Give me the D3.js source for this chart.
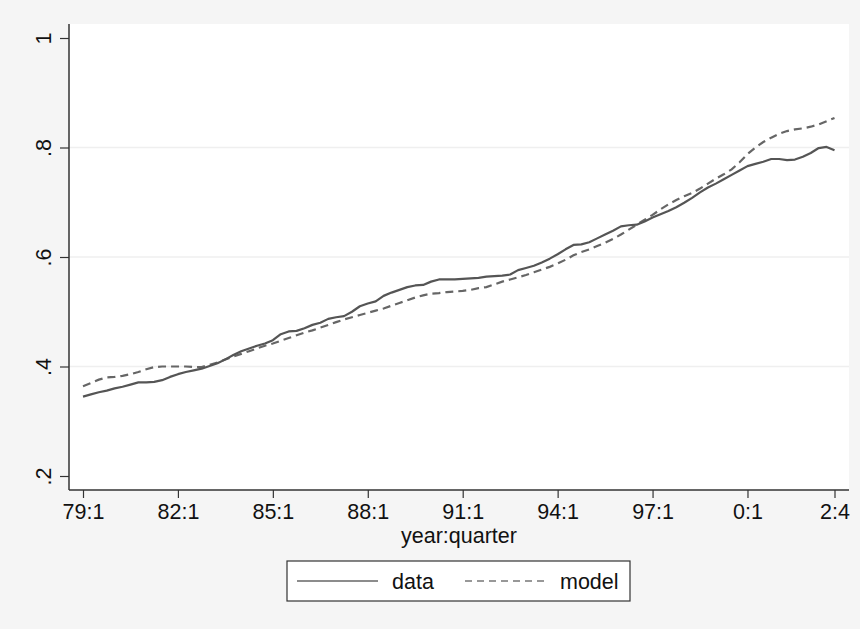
<!DOCTYPE html>
<html>
<head>
<meta charset="utf-8">
<script src="https://cdn.jsdelivr.net/npm/d3@7"></script>
<style>
  html, body { margin: 0; padding: 0; background: #f5f5f5; }
  svg { display: block; font-family: "Liberation Sans", Arial, sans-serif; }
</style>
</head>
<body>
<svg id="chart" width="860" height="629"></svg>
<script>
// Quarterly observations, 1979:1 through 2002:4
const dataSeries = [
  .345, .349, .353, .356, .360, .363, .367, .371, .371, .372, .375, .381,
  .386, .390, .393, .396, .401, .406, .413, .421, .428, .433, .438, .442,
  .448, .459, .464, .465, .470, .476, .480, .487, .490, .492, .500, .510,
  .515, .519, .529, .535, .540, .545, .548, .549, .555, .559, .559, .559,
  .560, .561, .562, .564, .565, .566, .568, .576, .580, .584, .590, .597,
  .605, .614, .622, .623, .627, .634, .641, .648, .656, .658, .659, .665,
  .672, .678, .684, .691, .699, .708, .718, .727, .734, .742, .750, .758,
  .766, .770, .774, .779, .779, .777, .778, .783, .790, .799, .801, .795
];

const modelSeries = [
  .364, .370, .376, .380, .381, .383, .386, .390, .395, .399, .400, .400,
  .400, .400, .399, .399, .403, .407, .413, .418, .423, .428, .433, .438,
  .442, .447, .452, .457, .462, .466, .471, .476, .481, .486, .490, .494,
  .498, .502, .506, .511, .516, .521, .526, .530, .533, .534, .536, .537,
  .538, .540, .543, .545, .550, .555, .559, .563, .567, .572, .577, .582,
  .588, .595, .603, .609, .614, .620, .626, .633, .641, .650, .659, .668,
  .677, .687, .696, .704, .711, .717, .725, .734, .743, .751, .760, .773,
  .788, .800, .810, .818, .825, .830, .833, .835, .838, .842, .848, .854
];

// quarter index (0 = 1979:1) of each labelled x tick
const xTickIdx = [0, 12, 24, 36, 48, 60, 72, 84, 95];
const xTickLabels = ["79:1", "82:1", "85:1", "88:1", "91:1", "94:1", "97:1", "0:1", "2:4"];
const yTicks = [0.2, 0.4, 0.6, 0.8, 1.0];
const yTickLabels = [".2", ".4", ".6", ".8", "1"];
const gridTicks = [0.4, 0.6, 0.8];
const seriesNames = ["data", "model"];

const FONT = 21.5;
const TEXT = "#111";

const svg = d3.select("#chart");
const plot = { left: 69, right: 849, top: 24, bottom: 490 };

const x = d3.scaleLinear().domain([0, 95]).range([83, 834.5]);
const y = d3.scaleLinear().domain([0.2, 1]).range([476, 38]);

// outer background and white plot region
svg.append("rect").attr("width", 860).attr("height", 629).attr("fill", "#f5f5f5");
svg.append("rect")
  .attr("x", plot.left).attr("y", plot.top)
  .attr("width", plot.right - plot.left).attr("height", plot.bottom - plot.top)
  .attr("fill", "#ffffff");

// horizontal grid lines at interior ticks
svg.append("g").selectAll("line").data(gridTicks).join("line")
  .attr("x1", plot.left).attr("x2", plot.right)
  .attr("y1", d => y(d)).attr("y2", d => y(d))
  .attr("stroke", "#efefef").attr("stroke-width", 1.5);

// y axis
const yAxis = d3.axisLeft(y).tickValues(yTicks)
  .tickFormat((d, i) => yTickLabels[i]).tickSize(9).tickSizeOuter(0);
const gy = svg.append("g").attr("transform", `translate(${plot.left},0)`).call(yAxis);
gy.select(".domain").attr("d", `M0,${plot.top}V${plot.bottom}`);
gy.selectAll(".tick text")
  .attr("x", 0).attr("y", 0).attr("dy", 0)
  .attr("transform", "translate(-18,0) rotate(-90)")
  .attr("text-anchor", "middle");

// x axis
const xAxis = d3.axisBottom(x).tickValues(xTickIdx)
  .tickFormat((d, i) => xTickLabels[i])
  .tickSize(8).tickSizeOuter(0);
const gx = svg.append("g").attr("transform", `translate(0,${plot.bottom})`).call(xAxis);
gx.select(".domain").attr("d", `M${plot.left},0H${plot.right}`);
gx.selectAll(".tick text").attr("y", 28.5).attr("dy", 0);

[gx, gy].forEach(g => {
  g.attr("font-family", "'Liberation Sans', Arial, sans-serif").attr("font-size", FONT).attr("color", TEXT);
  g.select(".domain").attr("stroke", "#333").attr("stroke-width", 1.5);
  g.selectAll(".tick line").attr("stroke", "#333").attr("stroke-width", 1.2);
});

// axis title
svg.append("text")
  .attr("x", (plot.left + plot.right) / 2).attr("y", 543)
  .attr("text-anchor", "middle").attr("font-size", FONT).attr("fill", TEXT)
  .text("year:quarter");

// series lines
const line = d3.line().x((d, i) => x(i)).y(d => y(d));
svg.append("path").datum(modelSeries)
  .attr("d", line).attr("fill", "none")
  .attr("stroke", "#666").attr("stroke-width", 2.2)
  .attr("stroke-dasharray", "8,5");
svg.append("path").datum(dataSeries)
  .attr("d", line).attr("fill", "none")
  .attr("stroke", "#555").attr("stroke-width", 2.2)
  .attr("stroke-linejoin", "round");

// legend
const lg = svg.append("g");
lg.append("rect").attr("x", 287).attr("y", 561).attr("width", 343).attr("height", 40)
  .attr("fill", "#ffffff").attr("stroke", "#333").attr("stroke-width", 1.2);
lg.append("line").attr("x1", 297).attr("x2", 378).attr("y1", 581).attr("y2", 581)
  .attr("stroke", "#666").attr("stroke-width", 1.5);
lg.append("text").attr("x", 392).attr("y", 589).attr("font-size", FONT).attr("fill", TEXT).text(seriesNames[0]);
lg.append("line").attr("x1", 465).attr("x2", 547).attr("y1", 581).attr("y2", 581)
  .attr("stroke", "#777").attr("stroke-width", 1.5).attr("stroke-dasharray", "7,5");
lg.append("text").attr("x", 560).attr("y", 589).attr("font-size", FONT).attr("fill", TEXT).text(seriesNames[1]);
</script>
</body>
</html>
